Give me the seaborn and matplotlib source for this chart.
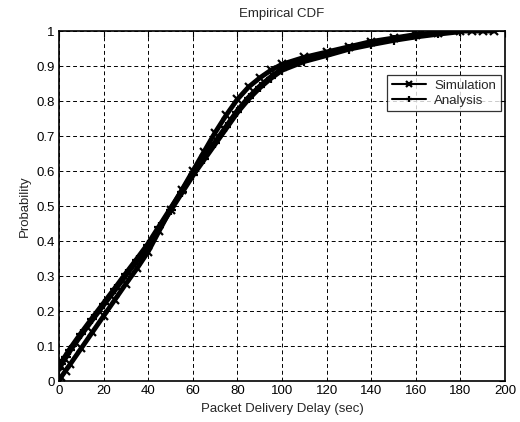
import matplotlib
matplotlib.use("Agg")
import matplotlib.pyplot as plt
import seaborn as sns
import pandas as pd

sim_x = [0, 1, 3, 5, 10, 15, 20, 25, 30, 35, 40, 45, 50, 55, 60, 65, 70, 75, 80, 85, 90, 95,
         100, 110, 120, 130, 140, 150, 160, 170, 180, 185, 190, 195]
sim_p = [0.0, 0.012, 0.03, 0.048, 0.094, 0.14, 0.186, 0.232, 0.278, 0.322, 0.37, 0.43, 0.49,
         0.545, 0.60, 0.655, 0.71, 0.76, 0.805, 0.84, 0.866, 0.888, 0.905, 0.925, 0.94, 0.955,
         0.97, 0.98, 0.99, 0.995, 1.0, 1.0, 1.0, 1.0]
ana_x = [0, 1, 3, 5, 10, 15, 20, 25, 30, 35, 40, 45, 50, 55, 60, 65, 70, 75, 80, 85, 90, 95,
         100, 110, 120, 130, 140, 150, 160, 170, 180]
ana_p = [0.035, 0.05, 0.07, 0.09, 0.135, 0.178, 0.22, 0.262, 0.305, 0.347, 0.39, 0.44, 0.49,
         0.54, 0.59, 0.635, 0.68, 0.725, 0.77, 0.808, 0.84, 0.867, 0.89, 0.915, 0.932, 0.95,
         0.963, 0.975, 0.985, 0.993, 1.0]

x_ticks = [0, 20, 40, 60, 80, 100, 120, 140, 160, 180, 200]
y_ticks = [0, 0.1, 0.2, 0.3, 0.4, 0.5, 0.6, 0.7, 0.8, 0.9, 1]
y_labels = ["0", "0.1", "0.2", "0.3", "0.4", "0.5", "0.6", "0.7", "0.8", "0.9", "1"]

sns.set_style("white")
plt.rcParams["font.family"] = ["Liberation Sans", "DejaVu Sans"]
plt.rcParams["font.size"] = 9.5

fig = plt.figure(figsize=(5.2, 4.22), dpi=100)
ax = fig.add_axes([0.1135, 0.097, 0.8577, 0.8295])

sim_df = pd.DataFrame({"x": sim_x, "p": sim_p})
ana_df = pd.DataFrame({"x": ana_x, "p": ana_p})

sns.lineplot(data=sim_df, x="x", y="p", ax=ax, color="black", lw=3.5, marker="x",
             markersize=5.5, mew=1.6, mec="black", label="Simulation", zorder=3)
sns.lineplot(data=ana_df, x="x", y="p", ax=ax, color="black", lw=4.5, marker="+",
             markersize=6.5, mew=1.6, mec="black", label="Analysis", zorder=3)

ax.set_xlim(0, 200)
ax.set_ylim(0, 1)
ax.set_xticks(x_ticks)
ax.set_xticklabels([str(t) for t in x_ticks])
ax.set_yticks(y_ticks)
ax.set_yticklabels(y_labels)
ax.grid(True, color="black", linestyle=(0, (4, 3)), linewidth=0.7)
for s in ax.spines.values():
    s.set_color("black")
    s.set_linewidth(1.2)
ax.tick_params(direction="in", length=4, width=0.8, top=True, right=True, colors="black",
               labelsize=9.5, pad=3)
ax.set_title("Empirical CDF", fontsize=9.5, pad=10)
ax.set_xlabel("Packet Delivery Delay (sec)", fontsize=9.5, labelpad=4)
ax.set_ylabel("Probability", fontsize=9.5, labelpad=4)

leg = ax.legend(loc="upper right", bbox_to_anchor=(0.99, 0.875), frameon=True,
                fancybox=False, edgecolor="black", fontsize=9.5, handlelength=2.6,
                borderpad=0.35, labelspacing=0.2, handletextpad=0.6, borderaxespad=0)
leg.get_frame().set_linewidth(0.9)
for h in leg.get_lines():
    h.set_linewidth(1.5)
    h.set_markersize(4)

fig.savefig("out.png", dpi=100, facecolor="white")
